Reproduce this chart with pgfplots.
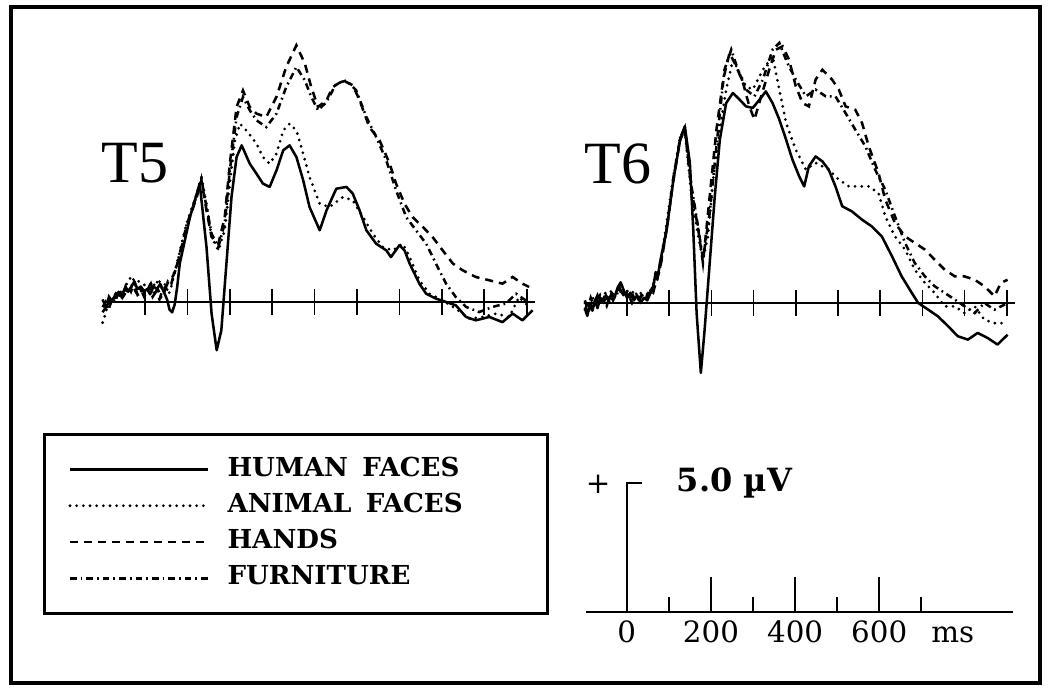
\documentclass[border=0pt]{standalone}
\usepackage{fontspec}
\setmainfont{Liberation Serif}
\newfontfamily\slab{DejaVu Serif}
\usepackage{pgfplots}
\pgfplotsset{compat=1.18}
\usepackage{pgfplotstable}

% ERP waveforms, time in ms, amplitude in microvolts (positive up)
\pgfplotstableread{
t v
-100 -0.4
-92 -0.2
-85 0.0
-78 0.1
-70 0.2
-62 0.3
-55 0.2
-48 0.5
-40 0.4
-32 0.6
-25 0.8
-18 0.5
-10 0.6
-3 0.4
5 0.5
12 0.3
20 0.6
28 0.5
36 0.7
44 0.4
52 0.1
58 -0.3
64 -0.4
70 -0.1
76 0.6
82 1.49
106 3.29
129 4.59
145 2.13
157 -0.45
169 -1.87
180 -1.10
192 1.49
204 4.07
216 5.62
228 6.07
247 5.36
263 4.97
278 4.59
294 4.46
310 5.10
326 5.88
341 6.07
357 5.62
373 4.72
388 3.68
412 2.78
428 3.55
451 4.39
475 4.46
490 4.20
506 3.55
522 2.78
545 2.26
569 2.00
580 1.74
600 2.20
612 2.00
624 1.49
647 0.71
663 0.32
686 0.13
710 0.00
733 -0.13
757 -0.58
780 -0.71
812 -0.58
843 -0.78
867 -0.45
890 -0.71
914 -0.32
}\tfivehuman

\pgfplotstableread{
t v
-100 -0.8
-94 -0.5
-88 -0.1
-80 0.1
-73 0.0
-66 0.3
-58 0.5
-50 0.3
-43 0.7
-36 0.9
-30 1.0
-22 0.6
-15 0.8
-8 0.5
0 0.7
8 0.5
16 0.8
24 0.6
32 0.9
40 0.5
48 0.7
56 0.3
62 0.6
68 1.0
75 1.49
98 3.04
122 4.20
133 4.84
145 3.81
157 2.52
173 2.00
188 2.78
200 4.59
212 6.27
224 6.91
239 6.65
263 6.14
278 5.62
294 5.36
310 5.75
326 6.65
341 6.91
357 6.65
373 5.75
388 4.84
412 3.81
435 3.68
467 4.07
490 3.94
514 3.29
537 2.65
561 2.13
584 2.00
608 2.26
624 1.74
647 0.84
671 0.32
702 0.06
733 -0.26
765 -0.65
796 -0.58
828 -0.45
859 -0.58
882 0.19
906 -0.19
}\tfiveanimal

\pgfplotstableread{
t v
-100 0.1
-92 -0.2
-85 0.2
-77 0.0
-70 0.3
-62 0.5
-54 0.2
-46 0.6
-38 0.3
-30 0.7
-22 0.4
-14 0.2
-6 0.5
2 0.3
10 0.6
18 0.2
26 0.4
34 0.1
42 0.5
50 0.6
58 0.9
66 1.0
75 1.36
98 2.91
122 4.07
133 4.72
145 3.55
157 2.52
173 2.26
188 3.29
200 5.36
216 7.56
231 8.20
247 7.56
263 7.30
286 7.17
310 7.95
333 9.11
357 9.95
377 9.24
392 8.33
408 7.56
428 7.82
443 8.33
467 8.59
490 8.40
506 7.82
529 6.78
553 6.27
577 5.36
592 4.59
612 3.81
631 3.29
655 2.91
678 2.52
702 2.00
726 1.49
749 1.23
780 0.97
812 0.84
843 0.71
867 0.97
890 0.71
906 0.58
}\tfivehands

\pgfplotstableread{
t v
-100 -0.2
-93 0.0
-86 -0.3
-78 0.1
-70 0.0
-63 0.4
-56 0.1
-48 0.3
-40 0.6
-33 0.4
-26 0.7
-18 0.3
-10 0.5
-2 0.2
6 0.4
14 0.7
22 0.3
30 0.5
38 0.2
46 0.4
54 0.8
62 0.7
68 1.1
75 1.42
98 2.97
122 4.13
133 4.78
145 3.68
157 2.65
173 2.13
188 3.04
200 5.10
216 7.17
231 7.95
247 7.43
263 7.04
286 6.78
310 7.30
333 8.33
357 9.11
377 8.59
392 7.95
408 7.43
428 7.75
451 8.46
475 8.59
498 8.20
522 7.17
545 6.40
569 5.49
592 4.33
616 3.29
639 2.78
663 2.26
686 1.49
710 0.71
733 0.19
757 -0.19
788 -0.39
820 -0.19
851 -0.06
875 0.32
898 0.06
}\tfivefurn

\pgfplotstableread{
t v
-100 -0.2
-94 -0.5
-88 0.0
-82 -0.3
-76 0.1
-70 -0.2
-63 0.2
-56 0.0
-50 0.3
-43 0.1
-36 0.4
-30 0.2
-22 0.6
-15 0.8
-8 0.5
0 0.2
8 0.4
16 0.1
24 0.3
32 0.0
40 0.2
48 0.1
56 0.4
62 0.6
68 1.2
72 0.9
78 1.55
94 2.84
110 4.78
126 6.33
137 6.85
149 5.43
157 2.84
165 -0.39
175 -2.71
184 -1.03
196 1.55
208 4.13
220 6.33
235 7.75
251 8.14
267 7.88
282 7.62
298 7.56
314 7.88
329 8.20
345 7.75
361 7.11
377 6.33
392 5.56
408 4.91
420 4.52
431 5.30
447 5.68
463 5.49
478 5.17
494 4.52
510 3.75
533 3.55
557 3.23
580 2.97
604 2.58
628 1.81
651 1.03
675 0.39
690 0.00
714 -0.26
737 -0.52
761 -0.90
784 -1.29
808 -1.42
831 -1.16
855 -1.36
878 -1.61
902 -1.23
}\tsixhuman

\pgfplotstableread{
t v
-100 0.0
-93 -0.4
-86 -0.1
-80 0.2
-73 -0.1
-66 0.3
-58 0.1
-51 0.4
-44 0.2
-37 0.5
-30 0.3
-22 0.5
-15 0.7
-8 0.4
0 0.5
8 0.2
16 0.5
24 0.3
32 0.4
40 0.1
48 0.3
56 0.5
64 0.8
72 1.0
78 1.42
94 3.10
110 4.91
126 6.46
137 6.72
153 4.13
169 2.58
180 1.68
192 2.58
204 4.78
220 6.72
235 8.27
251 9.43
267 8.91
282 8.40
298 8.27
322 9.04
345 9.56
361 8.27
377 6.98
400 5.94
424 5.17
447 5.43
478 5.17
502 4.78
526 4.52
549 4.52
573 4.52
596 4.26
612 3.36
635 2.58
659 2.07
682 1.29
706 0.78
729 0.39
753 -0.13
777 -0.13
800 -0.39
824 -0.13
847 -0.65
871 -0.78
902 -0.78
}\tsixanimal

\pgfplotstableread{
t v
-100 -0.3
-92 0.1
-85 -0.2
-78 0.0
-70 0.3
-62 0.0
-55 0.2
-48 -0.1
-40 0.3
-33 0.1
-25 0.4
-18 0.6
-10 0.3
-2 0.4
6 0.1
14 0.3
22 0.0
30 0.2
38 0.4
46 0.2
54 0.5
62 0.4
70 0.9
78 1.29
94 2.84
110 4.78
126 6.33
137 6.72
153 4.39
169 2.84
180 1.55
196 4.13
212 6.72
228 8.66
243 9.69
259 9.17
275 8.53
290 7.62
302 7.11
318 8.01
337 9.04
353 9.82
369 9.95
384 9.43
400 8.40
416 7.75
431 7.62
447 8.66
463 9.04
486 8.66
502 8.27
518 7.62
541 7.49
557 6.98
573 6.07
596 5.04
612 4.01
635 3.10
659 2.58
682 2.33
706 2.07
729 1.68
753 1.29
777 1.03
800 1.03
824 0.90
847 0.65
871 0.26
886 0.78
902 0.90
}\tsixhands

\pgfplotstableread{
t v
-100 0.1
-93 -0.2
-86 0.2
-79 -0.1
-72 0.1
-64 0.3
-57 0.0
-50 0.2
-42 0.0
-35 0.3
-27 0.2
-20 0.5
-12 0.4
-4 0.2
4 0.3
12 0.0
20 0.2
28 0.1
36 0.3
44 0.4
52 0.3
60 0.6
68 1.0
78 1.35
94 2.90
110 4.85
126 6.40
137 6.80
153 4.50
169 2.90
180 1.70
196 3.49
216 6.72
231 9.04
247 9.82
263 9.04
282 8.27
302 8.01
322 8.66
345 9.82
361 10.08
380 9.30
400 8.66
424 8.01
447 8.27
471 8.01
494 8.01
518 7.36
541 6.72
565 6.07
588 5.17
612 4.39
635 3.36
659 2.33
682 1.55
706 1.03
729 0.65
753 0.39
777 0.13
800 -0.13
824 -0.39
847 0.00
871 -0.26
902 0.00
}\tsixfurn

\pgfplotsset{
  human/.style={black, line width=1.9pt, line join=round},
  animal/.style={black, line width=2.3pt, line cap=round, dash pattern=on 0pt off 5pt},
  hands/.style={black, line width=1.9pt, dash pattern=on 6pt off 4.5pt},
  furn/.style={black, line width=1.9pt, dash pattern=on 5pt off 3pt on 1.3pt off 3pt},
  erp/.style={
    scale only axis, anchor=south west, height=270.9pt,
    xmin=-100, xmax=920, ymin=-3, ymax=11,
    axis x line*=middle, axis y line=none,
    x axis line style={-, line width=1.3pt},
    xtick={0,100,...,900}, xticklabel=\empty, ytick=\empty,
    tick align=center, major tick length=19.5pt,
    tick style={black, line width=1.3pt},
    clip=false,
  },
}

\begin{document}
\begin{tikzpicture}
\useasboundingbox (0,0) rectangle (787.5pt,523.5pt);
\draw[line width=3pt] (8.25pt,11.25pt) rectangle (780pt,518.25pt);

\begin{axis}[erp, at={(76.95pt,238.95pt)}, width=324.4pt,
  legend style={at={(-0.1378,-0.1484)}, anchor=north west, draw=black,
    line width=2.2pt, inner xsep=18pt, inner ysep=17.75pt, row sep=10.2pt,
    font=\slab\bfseries\fontsize{19.6}{22}\selectfont, cells={anchor=west},
    nodes={inner sep=0pt, text height=13.5pt, text depth=3.5pt},
    /tikz/every odd column/.append style={column sep=13.5pt}},
  legend image code/.code={\draw[#1] (0pt,0pt) -- (103.5pt,0pt);}]
\addplot[human] table {\tfivehuman};
\addlegendentry{\makebox[222pt][l]{HUMAN\hspace{0.55em}FACES}}
\addplot[animal] table {\tfiveanimal};
\addlegendentry{\makebox[222pt][l]{ANIMAL\hspace{0.55em}FACES}}
\addplot[hands] table {\tfivehands};
\addlegendentry{\makebox[222pt][l]{HANDS}}
\addplot[furn] table {\tfivefurn};
\addlegendentry{\makebox[222pt][l]{FURNITURE}}
\end{axis}

\begin{axis}[erp, at={(438.6pt,238.2pt)}, width=322.8pt]
\addplot[human] table {\tsixhuman};
\addplot[animal] table {\tsixanimal};
\addplot[hands] table {\tsixhands};
\addplot[furn] table {\tsixfurn};
\end{axis}

\node[font=\fontsize{45}{50}\selectfont] at (101.25pt,401.25pt) {T5};
\node[font=\fontsize{45}{50}\selectfont] at (463.5pt,400.5pt) {T6};

% calibration: 5 microvolts and time scale
\begin{axis}[scale only axis, anchor=south west, at={(439.5pt,64.5pt)},
  width=320.25pt, height=96.75pt, xmin=-97, xmax=918, ymin=0, ymax=5,
  axis x line*=bottom, axis y line=none, x axis line style={-, line width=1.3pt},
  xtick={0,200,400,600}, xticklabels={0,200,400,600},
  minor xtick={100,300,500,700}, ytick=\empty,
  tick align=inside, major tick length=26.25pt, minor tick length=11.25pt,
  tick style={black, line width=1.3pt},
  xticklabel style={font=\slab\fontsize{22}{26}\selectfont, anchor=base, yshift=-23.25pt},
  clip=false]
\addplot[black, line width=1.3pt] coordinates {(0,0) (0,5) (35,5)};
\node[font=\slab\fontsize{22}{26}\selectfont, anchor=base] at (axis cs:775,0) [yshift=-23.25pt] {ms};
\node[font=\slab\fontsize{22}{24}\selectfont] at (axis cs:-68,4.96) {+};
\node[font=\slab\bfseries\fontsize{24}{28}\selectfont, anchor=base west] at (axis cs:108,4.66) {5.0 µV};
\end{axis}
\end{tikzpicture}
\end{document}
